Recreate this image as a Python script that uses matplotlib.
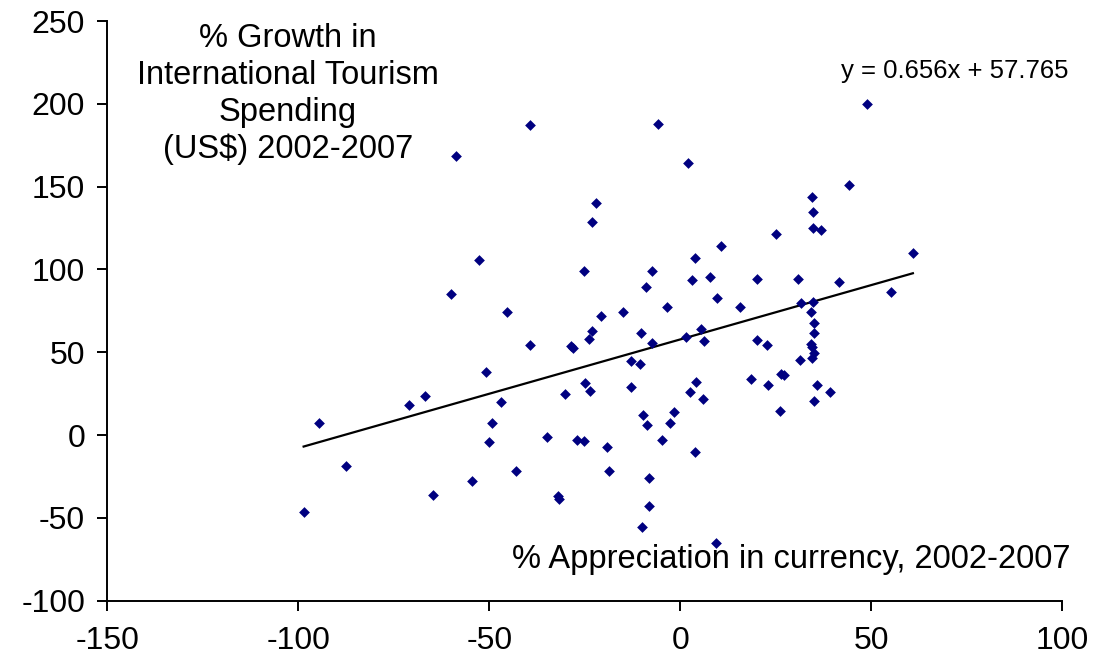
import matplotlib.pyplot as plt
import numpy as np

plt.rcParams['font.family'] = ['Liberation Sans', 'DejaVu Sans']
plt.rcParams['axes.unicode_minus'] = False

# % appreciation in currency vs % growth in tourism spending, 2002-2007
appreciation = [
    -98.6, -94.6, -87.6, -71.0, -66.7, -64.8, -60.0, -58.7, -54.6, -52.8,
    -50.8, -50.0, -49.3, -47.0, -45.4, -43.0, -39.3, -39.4, -35.0, -32.0,
    -31.8, -30.3, -28.6, -28.2, -27.0, -25.2, -25.1, -24.9, -23.9, -23.6,
    -23.0, -23.0, -22.0, -20.7, -19.3, -18.7, -14.9, -12.9, -13.0, -10.6,
    -10.3, -10.1, -9.7, -9.1, -8.8, -8.2, -8.2, -7.5, -7.3, -5.8,
    -4.7, -3.4, -2.7, -1.7, 1.4, 2.1, 2.6, 3.1, 3.8, 3.8,
    4.0, 5.3, 5.9, 6.1, 7.8, 9.4, 9.6, 10.6, 15.7, 18.6,
    20.1, 20.1, 22.8, 23.1, 25.0, 26.2, 26.4, 27.1, 30.8, 31.3,
    31.6, 34.5, 34.8, 34.8, 36.9, 34.8, 34.2, 35.1, 35.1, 34.1,
    34.5, 35.1, 34.5, 35.7, 35.0, 39.2, 41.5, 44.1, 49.0, 55.1,
    60.9,
]
spending_growth = [
    -46.5, 7.6, -18.4, 18.0, 23.6, -36.0, 85.3, 168.5, -28.0, 105.9,
    38.2, -4.4, 7.5, 19.8, 74.5, -21.5, 187.0, 54.5, -1.2, -36.5,
    -38.5, 24.8, 54.0, 52.5, -3.1, -3.3, 98.9, 31.6, 58.0, 26.6,
    63.0, 128.5, 140.0, 71.8, -7.4, -21.7, 74.4, 29.0, 44.6, 43.1,
    61.5, -55.2, 12.0, 89.4, 6.0, -25.7, -43.1, 55.8, 98.9, 187.7,
    -2.7, 77.3, 7.6, 13.9, 59.1, 164.1, 25.8, 93.8, 107.0, -10.2,
    31.9, 64.3, 21.6, 57.1, 95.2, -65.3, 82.5, 114.4, 77.3, 33.9,
    94.4, 57.5, 54.5, 30.0, 121.7, 14.7, 36.9, 36.2, 94.4, 45.4,
    79.7, 143.7, 134.8, 125.1, 124.1, 80.1, 74.3, 67.6, 61.5, 54.9,
    53.1, 49.4, 46.4, 30.2, 20.5, 26.2, 92.2, 150.8, 200.2, 86.1,
    110.0,
]

slope = 0.656
intercept = 57.765

x_ticks = [-150, -100, -50, 0, 50, 100]
y_ticks = [-100, -50, 0, 50, 100, 150, 200, 250]

fig = plt.figure(figsize=(11.05, 6.61), dpi=100)
ax = fig.add_axes([0.0971, 0.0912, 0.8642, 0.8770])

ax.scatter(appreciation, spending_growth, marker='D', s=30, color='#000080',
           linewidths=0, zorder=3)

# linear trend over the span of the data
xs = np.array([min(appreciation), max(appreciation)])
ax.plot(xs, slope * xs + intercept, color='black', linewidth=1.6, zorder=2)

ax.set_xlim(-150, 100)
ax.set_ylim(-100, 250)
ax.set_xticks(x_ticks)
ax.set_yticks(y_ticks)
ax.tick_params(direction='out', length=7, width=1.4, labelsize=23)
ax.tick_params(axis='y', pad=9)
ax.tick_params(axis='x', pad=11)
for side in ('top', 'right'):
    ax.spines[side].set_visible(False)
for side in ('left', 'bottom'):
    ax.spines[side].set_linewidth(1.4)

ax.text(0.189, 0.996, '% Growth in\nInternational Tourism\nSpending\n(US$) 2002-2007',
        transform=ax.transAxes, ha='center', va='top', fontsize=23.5,
        linespacing=1.24)
ax.text(1.009, 0.045, '% Appreciation in currency, 2002-2007',
        transform=ax.transAxes, ha='right', va='bottom', fontsize=23.5)
ax.text(1.007, 0.914, 'y = 0.656x + 57.765', transform=ax.transAxes,
        ha='right', va='center', fontsize=18.5)

fig.savefig('out.png', dpi=100)
